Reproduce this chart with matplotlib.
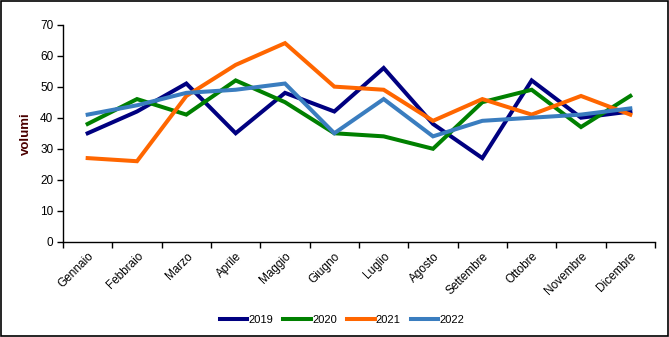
import matplotlib
matplotlib.use("Agg")
import matplotlib.pyplot as plt
from matplotlib.patches import Rectangle

plt.rcParams['font.family'] = ['Liberation Sans', 'DejaVu Sans']

months = ["Gennaio", "Febbraio", "Marzo", "Aprile", "Maggio", "Giugno",
          "Luglio", "Agosto", "Settembre", "Ottobre", "Novembre", "Dicembre"]
v2019 = [35, 42, 51, 35, 48, 42, 56, 38, 27, 52, 40, 42]
v2020 = [38, 46, 41, 52, 45, 35, 34, 30, 45, 49, 37, 47]
v2021 = [27, 26, 47, 57, 64, 50, 49, 39, 46, 41, 47, 41]
v2022 = [41, 44, 48, 49, 51, 35, 46, 34, 39, 40, 41, 43]
series = [("2019", v2019, "#000080"), ("2020", v2020, "#008000"),
          ("2021", v2021, "#FF6600"), ("2022", v2022, "#3A7DBF")]
yticks = [0, 10, 20, 30, 40, 50, 60, 70]

fig = plt.figure(figsize=(6.69, 3.37), dpi=100)
ax = fig.add_axes([63 / 669, 1 - 242 / 337, (655 - 63) / 669, (242 - 24.5) / 337])

x = list(range(len(months)))
for name, vals, col in series:
    ax.plot(x, vals, color=col, linewidth=2.9, label=name, solid_joinstyle='miter')

ax.set_xlim(-0.5, len(months) - 0.5)
ax.set_ylim(0, 70)
ax.set_yticks(yticks)
ax.set_yticklabels([str(t) for t in yticks], fontsize=8.5)

ax.set_xticks([i - 0.5 for i in range(len(months) + 1)])
ax.set_xticklabels([])
ax.set_xticks(x, minor=True)
ax.set_xticklabels(months, minor=True, rotation=45, ha='right', va='top',
                   rotation_mode='anchor', fontsize=8.5)
ax.tick_params(axis='x', which='minor', length=0, pad=6)
ax.tick_params(axis='x', which='major', direction='out', length=4, width=1)
ax.tick_params(axis='y', direction='out', length=4, width=1, pad=3)

for s in ['top', 'right']:
    ax.spines[s].set_visible(False)
for s in ['left', 'bottom']:
    ax.spines[s].set_linewidth(1)

ax.set_ylabel("volumi", fontsize=9.5, fontweight='bold', color='#4a0000', labelpad=6)

fig.legend(loc='center', bbox_to_anchor=(342 / 669, 1 - 320 / 337), ncol=4,
           frameon=False, fontsize=8, handlelength=2.5, handletextpad=0.1,
           columnspacing=0.9)

fig.patches.append(Rectangle((0.0015, 0.003), 0.997, 0.994, transform=fig.transFigure,
                             fill=False, edgecolor='black', linewidth=1.2))

fig.savefig("out.png", dpi=100)
